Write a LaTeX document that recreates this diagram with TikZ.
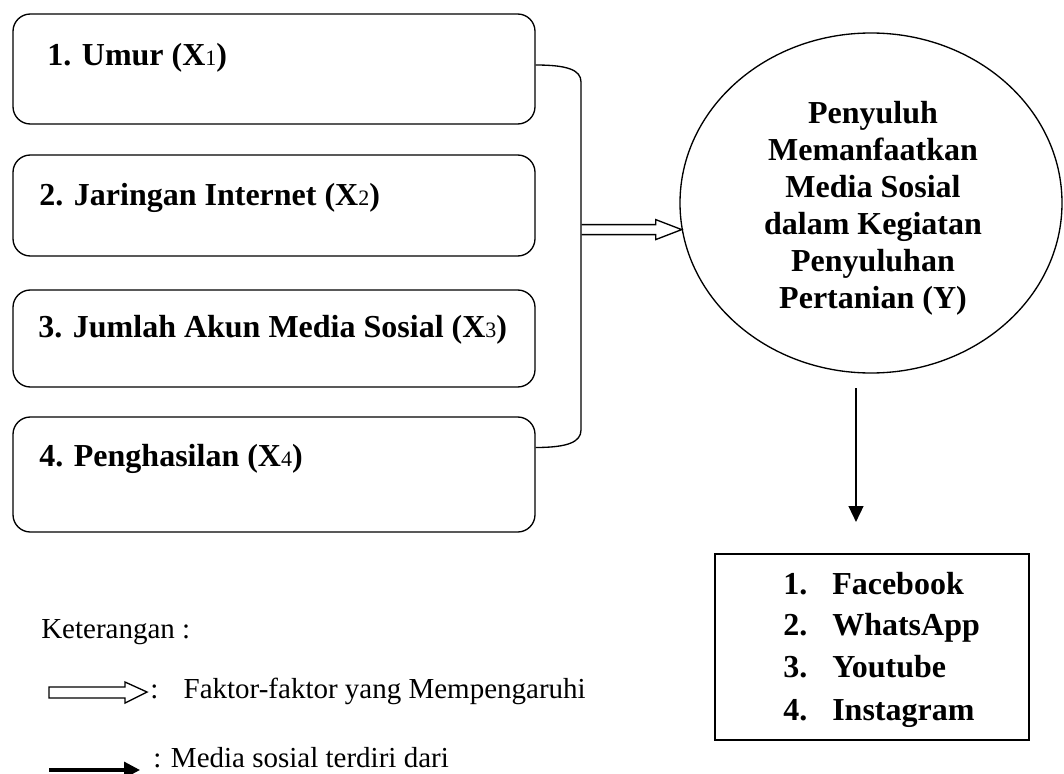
\documentclass[tikz,border=0pt]{standalone}
\usepackage{fontspec}
\setmainfont{Liberation Serif}
\usetikzlibrary{shapes.geometric,arrows.meta,calc}
\newcommand\xsub[1]{{\fontsize{16.5}{16.5}\selectfont\mdseries #1}}
\begin{document}
\begin{tikzpicture}[x=0.75pt,y=-0.75pt,
  fbox/.style={draw, line width=1pt, rounded corners=13pt, minimum width=391.5pt, inner sep=0pt},
  lbl/.style={anchor=base west, inner sep=0pt, font=\fontsize{24}{28}\selectfont\bfseries},
  item/.style={anchor=base west, inner sep=0pt, font=\fontsize{24}{28}\selectfont\bfseries},
  legtxt/.style={anchor=base west, inner sep=0pt, font=\fontsize{21.75}{26}\selectfont},
  conn/.style={line width=1pt},
  dbl/.style={line width=1pt, line join=miter}]
\useasboundingbox (0,0) rectangle (1064,774);

% factor boxes
\node[fbox, minimum height=82.5pt]  (b1) at (274,69) {};
\node[fbox, minimum height=75.75pt] (b2) at (274,205.5) {};
\node[fbox, minimum height=72.75pt] (b3) at (274,338.5) {};
\node[fbox, minimum height=86.25pt] (b4) at (274,474.5) {};

\node[lbl] (t1) at (47,65)  {1. Umur (X\xsub{1})};
\node[lbl] (t2) at (39,205) {2. Jaringan Internet (X\xsub{2})};
\node[lbl] (t3) at (38,337) {3. Jumlah Akun Media Sosial (X\xsub{3})};
\node[lbl] (t4) at (39,466) {4. Penghasilan (X\xsub{4})};

% ellipse
\node[draw, ellipse, line width=1pt, minimum width=286.5pt, minimum height=255pt, inner sep=0pt] (Y) at (871,203) {};
\node[align=center, inner sep=0pt, font=\fontsize{24}{27.75}\selectfont\bfseries] (ytxt) at (873,208)
  {Penyuluh\\Memanfaatkan\\Media Sosial\\dalam Kegiatan\\Penyuluhan\\Pertanian (Y)};

% bracket
\draw[conn] ($(b1.east)+(0,-4)$) .. controls ($(b1.east)+(32,-4)$) and (581,70) .. (581,82)
  -- (581,430) .. controls (581,442) and ($(b4.east)+(32,-27)$) .. ($(b4.east)+(0,-27)$);

% double arrow into ellipse
\coordinate (tip) at (Y.188);
\draw[dbl] ($(tip)+(-100,-5)$) -- ($(tip)+(-26,-5)$) -- ($(tip)+(-26,-10)$) -- (tip)
  -- ($(tip)+(-26,10)$) -- ($(tip)+(-26,5)$) -- ($(tip)+(-100,5)$);

% down arrow
\coordinate (d0) at (856,388);
\coordinate (d1) at (856,522);
\draw[line width=1.8pt, -{Triangle[length=12pt,width=11pt]}] (d0) -- (d1);

% media list box
\node[draw, line width=1.2pt, minimum width=235.5pt, minimum height=139.5pt, inner sep=0pt] (M) at (872,647) {};
\node[item] (m1) at (783,594) {\makebox[36.75pt][l]{1.}Facebook};
\node[item] (m2) at (783,635) {\makebox[36.75pt][l]{2.}WhatsApp};
\node[item] (m3) at (783,677) {\makebox[36.75pt][l]{3.}Youtube};
\node[item] (m4) at (783,720) {\makebox[36.75pt][l]{4.}Instagram};

% legend
\node[legtxt] (k) at (41,638) {Keterangan :};
\draw[dbl] (49,687) -- (125,687) -- (125,682) -- (147,692) -- (125,703) -- (125,698) -- (49,698) -- cycle;
\node[legtxt] (k1) at (150,698) {:\hspace{19pt}Faktor-faktor yang Mempengaruhi};
\coordinate (s0) at (49,770);
\coordinate (s1) at (140,770);
\draw[line width=2.4pt, -{Triangle[length=12pt,width=12pt]}] (s0) -- (s1);
\node[legtxt] (k2) at (153,767) {: Media sosial terdiri dari};
\end{tikzpicture}
\end{document}
